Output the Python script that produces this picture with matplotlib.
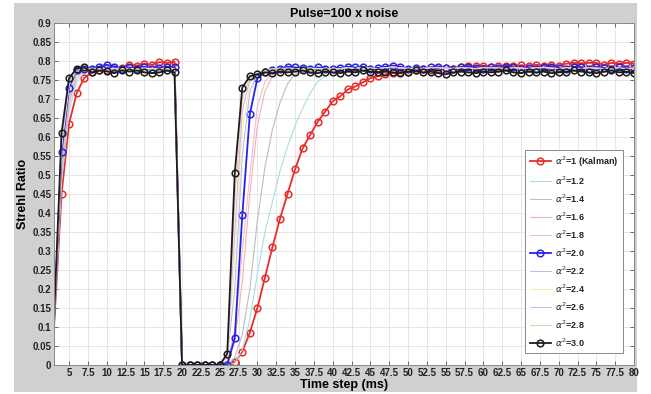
import numpy as np
import matplotlib
matplotlib.use("Agg")
import matplotlib.pyplot as plt
from matplotlib.patches import Rectangle

plt.rcParams['font.family'] = ['Liberation Sans', 'DejaVu Sans']
plt.rcParams['mathtext.fontset'] = 'dejavusans'

# time steps (ms)
t = np.arange(3, 81)

# alpha^2 = 1 (Kalman)
red = [0.10, 0.45, 0.635, 0.715, 0.755, 0.770, 0.775, 0.775, 0.780, 0.782, 0.790, 0.788, 0.793, 0.790, 0.797, 0.795, 0.798,
       0, 0, 0, 0, 0, 0, 0,
       0.008, 0.035, 0.085, 0.150, 0.230, 0.310, 0.385, 0.450, 0.515, 0.570, 0.605, 0.640, 0.667, 0.694, 0.707, 0.725,
       0.733, 0.744, 0.755, 0.760, 0.765, 0.768, 0.770, 0.772, 0.775, 0.778, 0.776, 0.780, 0.782, 0.780, 0.785, 0.787,
       0.786, 0.788, 0.785, 0.787, 0.788, 0.786, 0.789, 0.787, 0.790, 0.788, 0.789, 0.787, 0.793, 0.795, 0.794, 0.795,
       0.795, 0.790, 0.795, 0.793, 0.795, 0.793]
# alpha^2 = 2.0
blue = [0.11, 0.56, 0.73, 0.775, 0.78, 0.78, 0.785, 0.79, 0.785, 0.78, 0.783, 0.778, 0.785, 0.78, 0.782, 0.785, 0.783,
        0, 0, 0, 0, 0, 0, 0,
        0.072, 0.395, 0.66, 0.755, 0.77, 0.775, 0.78, 0.785, 0.783, 0.782, 0.78, 0.783, 0.78, 0.778, 0.782, 0.785,
        0.783, 0.785, 0.78, 0.782, 0.785, 0.788, 0.785, 0.78, 0.782, 0.78, 0.783, 0.785, 0.782, 0.78, 0.783, 0.785,
        0.782, 0.78, 0.784, 0.782, 0.785, 0.783, 0.78, 0.782, 0.78, 0.783, 0.785, 0.782, 0.78, 0.785, 0.783, 0.78,
        0.784, 0.782, 0.78, 0.783, 0.78, 0.782]
# alpha^2 = 3.0
black = [0.12, 0.61, 0.755, 0.78, 0.783, 0.77, 0.775, 0.773, 0.768, 0.775, 0.772, 0.775, 0.77, 0.768, 0.77, 0.775, 0.77,
         0, 0, 0, 0, 0, 0, 0.03,
         0.505, 0.73, 0.76, 0.765, 0.77, 0.768, 0.772, 0.77, 0.772, 0.775, 0.77, 0.768, 0.772, 0.77, 0.768, 0.772,
         0.77, 0.775, 0.772, 0.77, 0.772, 0.77, 0.768, 0.772, 0.775, 0.77, 0.772, 0.768, 0.765, 0.77, 0.772, 0.77,
         0.768, 0.772, 0.77, 0.772, 0.775, 0.77, 0.768, 0.772, 0.77, 0.772, 0.768, 0.77, 0.772, 0.775, 0.772, 0.77,
         0.768, 0.772, 0.775, 0.77, 0.772, 0.768]

# faint curves, t = 3..40
a12 = [0.10, 0.48, 0.67, 0.745, 0.77, 0.775, 0.78, 0.778, 0.78, 0.782, 0.78, 0.778, 0.78, 0.782, 0.78, 0.78, 0.782,
       0, 0, 0, 0, 0, 0, 0,
       0.005, 0.04, 0.12, 0.24, 0.35, 0.43, 0.51, 0.575, 0.63, 0.675, 0.715, 0.745, 0.76, 0.77]
a14 = [0.10, 0.50, 0.69, 0.755, 0.775, 0.78, 0.78, 0.782, 0.78, 0.778, 0.78, 0.782, 0.78, 0.78, 0.782, 0.78, 0.78,
       0, 0, 0, 0, 0, 0, 0,
       0.02, 0.08, 0.20, 0.38, 0.52, 0.62, 0.69, 0.74, 0.765, 0.775, 0.78, 0.78, 0.782, 0.78]
a16 = [0.10, 0.52, 0.70, 0.765, 0.78, 0.78, 0.782, 0.78, 0.782, 0.78, 0.783, 0.78, 0.782, 0.78, 0.782, 0.783, 0.78,
       0, 0, 0, 0, 0, 0, 0.005,
       0.06, 0.22, 0.45, 0.63, 0.72, 0.76, 0.775, 0.78, 0.782, 0.78, 0.78, 0.782, 0.78, 0.78]
a18 = [0.10, 0.53, 0.71, 0.77, 0.78, 0.782, 0.78, 0.782, 0.78, 0.78, 0.782, 0.78, 0.783, 0.78, 0.782, 0.78, 0.78,
       0, 0, 0, 0, 0, 0, 0.01,
       0.09, 0.30, 0.50, 0.68, 0.745, 0.77, 0.78, 0.782, 0.78, 0.78, 0.782, 0.78, 0.78, 0.782]
a22 = [0.11, 0.57, 0.735, 0.775, 0.78, 0.78, 0.782, 0.78, 0.78, 0.782, 0.78, 0.78, 0.782, 0.78, 0.78, 0.782, 0.78,
       0, 0, 0, 0, 0, 0, 0.02,
       0.20, 0.55, 0.72, 0.765, 0.775, 0.78, 0.78, 0.782, 0.78, 0.78, 0.782, 0.78, 0.78, 0.78]
a24 = [0.11, 0.58, 0.74, 0.778, 0.78, 0.778, 0.78, 0.78, 0.778, 0.78, 0.78, 0.778, 0.78, 0.78, 0.778, 0.78, 0.78,
       0, 0, 0, 0, 0, 0, 0.02,
       0.28, 0.62, 0.74, 0.77, 0.775, 0.778, 0.78, 0.778, 0.78, 0.778, 0.78, 0.78, 0.778, 0.78]
a26 = [0.115, 0.59, 0.745, 0.78, 0.78, 0.775, 0.778, 0.775, 0.778, 0.775, 0.778, 0.775, 0.775, 0.778, 0.775, 0.778, 0.775,
       0, 0, 0, 0, 0, 0, 0.025,
       0.35, 0.67, 0.75, 0.768, 0.772, 0.775, 0.775, 0.778, 0.775, 0.775, 0.778, 0.775, 0.775, 0.778]
a28 = [0.12, 0.60, 0.75, 0.78, 0.78, 0.772, 0.775, 0.772, 0.775, 0.772, 0.775, 0.772, 0.772, 0.775, 0.772, 0.775, 0.772,
       0, 0, 0, 0, 0, 0, 0.03,
       0.43, 0.70, 0.755, 0.765, 0.77, 0.772, 0.772, 0.775, 0.772, 0.772, 0.775, 0.772, 0.772, 0.775]
# faint curves, t = 41..80 (all sit on the plateau)
faint_tail = [0.78, 0.782, 0.78, 0.783, 0.781, 0.78, 0.782, 0.784, 0.782, 0.78, 0.781, 0.78, 0.782, 0.783, 0.781, 0.78,
              0.782, 0.781, 0.78, 0.782, 0.783, 0.781, 0.78, 0.782, 0.781, 0.78, 0.782, 0.783, 0.781, 0.78, 0.782,
              0.781, 0.78, 0.782, 0.781, 0.78, 0.782, 0.781, 0.78, 0.781]

labels = [r'$\alpha^2$=1 (Kalman)', r'$\alpha^2$=1.2', r'$\alpha^2$=1.4', r'$\alpha^2$=1.6', r'$\alpha^2$=1.8',
          r'$\alpha^2$=2.0', r'$\alpha^2$=2.2', r'$\alpha^2$=2.4', r'$\alpha^2$=2.6', r'$\alpha^2$=2.8',
          r'$\alpha^2$=3.0']
faint_colors = {'1.2': '#a8e0e0', '1.4': '#bdbdbd', '1.6': '#f0b4b0', '1.8': '#f0bcdc',
                '2.2': '#bcbcf0', '2.4': '#f0f0b0', '2.6': '#dcb4e8', '2.8': '#e8cca8'}

fig = plt.figure(figsize=(6.51, 3.94), dpi=100)
fig.patch.set_facecolor('white')
fig.add_artist(Rectangle((14/651, 2/394), 623/651, 389/394, transform=fig.transFigure,
                         facecolor='#d0d0d0', edgecolor='none', zorder=-10))

ax = fig.add_axes([54/651, 1 - 365/394, 580/651, 342/394])
ax.set_facecolor('white')

# first sample sits on the left edge, its marker is not shown
mk = dict(marker='o', markersize=4.8, markerfacecolor='none', markeredgewidth=1.1, linewidth=1.3,
          markevery=range(1, len(t)))

ax.plot(t, red, color='#e82c2c', label=labels[0], **mk)
ax.plot(t, a12 + faint_tail, color=faint_colors['1.2'], lw=0.8, label=labels[1])
ax.plot(t, a14 + faint_tail, color=faint_colors['1.4'], lw=0.8, label=labels[2])
ax.plot(t, a16 + faint_tail, color=faint_colors['1.6'], lw=0.8, label=labels[3])
ax.plot(t, a18 + faint_tail, color=faint_colors['1.8'], lw=0.8, label=labels[4])
ax.plot(t, blue, color='#2424e8', label=labels[5], **mk)
ax.plot(t, a22 + faint_tail, color=faint_colors['2.2'], lw=0.8, label=labels[6])
ax.plot(t, a24 + faint_tail, color=faint_colors['2.4'], lw=0.8, label=labels[7])
ax.plot(t, a26 + faint_tail, color=faint_colors['2.6'], lw=0.8, label=labels[8])
ax.plot(t, a28 + faint_tail, color=faint_colors['2.8'], lw=0.8, label=labels[9])
ax.plot(t, black, color='#1c1c1c', label=labels[10], **mk)

ax.set_xlim(3, 80)
ax.set_ylim(0, 0.9)
xt = np.arange(5, 80.1, 2.5)
ax.set_xticks(xt)
ax.set_xticklabels(['%g' % v for v in xt])
yt = np.arange(0, 0.901, 0.05)
ax.set_yticks(yt)
ax.set_yticklabels(['%g' % round(v, 2) for v in yt])
ax.tick_params(direction='in', length=3, width=0.6, top=True, right=True, labelsize=7,
               labelcolor='#222222', color='#555555', pad=2)
for lab in ax.get_xticklabels() + ax.get_yticklabels():
    lab.set_fontweight('bold')
ax.grid(True, color='#e6e6e6', linewidth=0.7)
ax.set_axisbelow(True)
for sp in ax.spines.values():
    sp.set_color('#888888')
    sp.set_linewidth(0.7)

ax.set_title('Pulse=100 x noise', fontsize=9, fontweight='bold', pad=4)
ax.set_xlabel('Time step (ms)', fontsize=9, fontweight='bold', labelpad=1)
ax.set_ylabel('Strehl Ratio', fontsize=9, fontweight='bold', labelpad=2)

leg = ax.legend(loc='lower right', bbox_to_anchor=(0.981, 0.035), borderaxespad=0,
                prop={'weight': 'bold', 'size': 6.5}, labelspacing=0.62, handlelength=2.4,
                handletextpad=0.4, borderpad=0.5, fancybox=False, framealpha=1, edgecolor='#888888')
leg.get_frame().set_linewidth(0.7)
for txt in leg.get_texts():
    txt.set_color('#222222')

fig.savefig('out.png', dpi=100, facecolor=fig.get_facecolor())
